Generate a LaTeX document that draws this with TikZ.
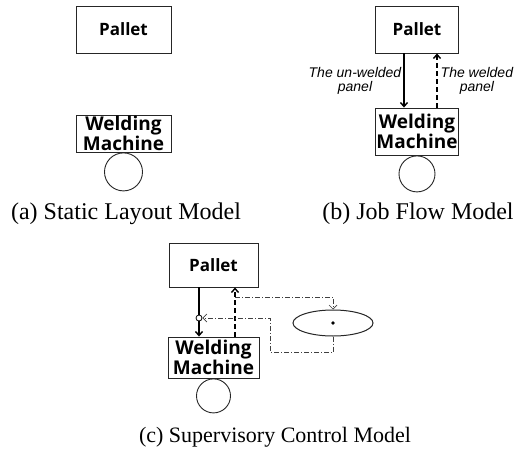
\documentclass[tikz,border=0pt]{standalone}
\usepackage{fontspec}
\setmainfont{Liberation Serif}
\setsansfont{Liberation Sans}
\newfontfamily\boxfont{Open Sans}
\usetikzlibrary{positioning,arrows.meta,shapes.geometric}

\begin{document}
\begin{tikzpicture}[x=1pt, y=-1pt, >={Straight Barb[length=4pt,width=7pt]},
  block/.style={draw=black!85, line width=0.9pt, inner sep=0pt, align=center},
  pallet/.style={block, font=\boxfont\bfseries\fontsize{17}{18}\selectfont},
  machine/.style={block, font=\boxfont\bfseries\fontsize{19}{17}\selectfont},
  wheel/.style={circle, draw=black!85, line width=0.9pt, inner sep=0pt},
  flow/.style={->, line width=1.4pt},
  back/.style={->, line width=1.4pt, dash pattern=on 5pt off 3pt},
  ctrl/.style={->, line width=0.7pt, draw=black!75, dash pattern=on 5pt off 2pt on 1pt off 2pt},
  note/.style={font=\sffamily\itshape\fontsize{14}{14}\selectfont, align=center},
  caption/.style={font=\fontsize{24}{26}\selectfont}]
\useasboundingbox (0,0) rectangle (522,455);

% (a) static layout
\node[pallet, minimum width=95pt, minimum height=47pt] (palletA) at (123.5,29.5) {Pallet};
\node[machine, minimum width=95pt, minimum height=37pt] (weldA) at (123.5,133.5) {Welding\\Machine};
\node[wheel, minimum size=38pt, below=0pt of weldA] (wheelA) {};
\node[caption] (capA) at (126,214) {(a) Static Layout Model};

% (b) job flow
\node[pallet, minimum width=83pt, minimum height=47pt] (palletB) at (417,29.5) {Pallet};
\node[machine, minimum width=83pt, minimum height=47pt] (weldB) at (417,131.5) {Welding\\Machine};
\node[wheel, minimum size=36pt, below=0pt of weldB] (wheelB) {};
\draw[flow] ([xshift=-13pt]palletB.south) -- ([xshift=-13pt]weldB.north)
  node[midway, left, note, inner sep=2pt] {The un-welded\\panel};
\draw[back] ([xshift=20pt]weldB.north) -- ([xshift=20pt]palletB.south)
  node[midway, right, note, inner sep=3pt] {The welded\\panel};
\node[caption] (capB) at (418,214) {(b) Job Flow Model};

% (c) supervisory control
\node[pallet, minimum width=89pt, minimum height=44pt] (palletC) at (213.5,265) {Pallet};
\node[machine, minimum width=91pt, minimum height=41pt] (weldC) at (213.5,357.5) {Welding\\Machine};
\node[wheel, minimum size=34pt, below=0pt of weldC] (wheelC) {};
\node[ellipse, draw=black!85, line width=1pt, minimum width=80pt, minimum height=26pt, inner sep=0pt] (super) at (333,323) {};
\fill (super.center) circle (1.8pt);
\node[circle, draw, line width=0.8pt, minimum size=6pt, inner sep=0pt] (gate) at (199,318) {};
\coordinate (tap) at (235,297);
\coordinate (bend) at (270,352);

\draw[line width=1.4pt] ([xshift=-14.5pt]palletC.south) -- (gate.north);
\draw[flow] (gate.south) -- ([xshift=-14.5pt]weldC.north);
\draw[back] ([xshift=21.5pt]weldC.north) -- ([xshift=21.5pt]palletC.south);
\draw[ctrl, >={Straight Barb[length=4pt,width=8pt]}] (tap) -| (super.north);
\draw[ctrl, >={Straight Barb[length=4pt,width=8pt]}] (super.south) |- (bend) |- (gate.east);
\node[caption, font=\fontsize{22}{24}\selectfont] (capC) at (275,437) {(c) Supervisory Control Model};
\end{tikzpicture}
\end{document}
